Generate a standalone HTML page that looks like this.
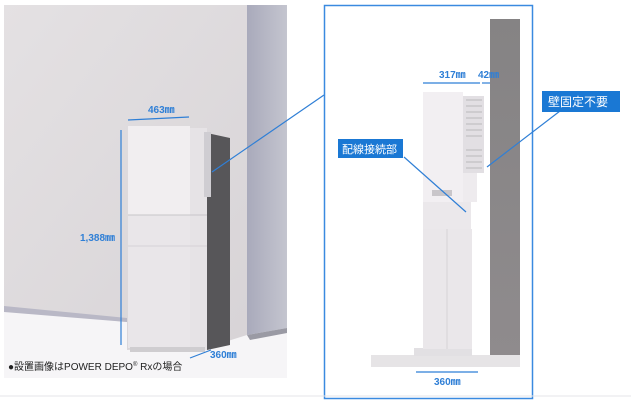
<!DOCTYPE html>
<html><head><meta charset="utf-8"><style>
html,body{margin:0;padding:0;background:#fff;}
svg{display:block;}
text{font-family:"Liberation Sans","Noto Sans CJK JP",sans-serif;}
</style></head><body>
<svg width="631" height="404" viewBox="0 0 631 404" xmlns="http://www.w3.org/2000/svg">
<defs>
<linearGradient id="wall" x1="0" y1="0" x2="1" y2="1">
<stop offset="0" stop-color="#e4e1e3"/><stop offset="1" stop-color="#d6d2d5"/></linearGradient>
<linearGradient id="pillar" x1="0" y1="0" x2="1" y2="0">
<stop offset="0" stop-color="#a9aabb"/><stop offset="1" stop-color="#c4c5cf"/></linearGradient>
<linearGradient id="gp" x1="0" y1="0" x2="0" y2="1">
<stop offset="0" stop-color="#858384"/><stop offset="1" stop-color="#8f8b8d"/></linearGradient>
</defs>
<rect width="631" height="404" fill="#fff"/>
<!-- left photo -->
<rect x="4" y="5" width="283" height="373" fill="url(#wall)"/>
<rect x="247" y="5" width="40" height="330" fill="url(#pillar)"/>
<polygon points="4,310 127,322 127,350 215,345 247,335 287,328 287,378 4,378" fill="#f6f5f7"/>
<polygon points="4,306 127,318 127,322 4,312" fill="#b9b8c6"/>
<polygon points="247,335 287,328 287,333 250,340" fill="#9a9aa4"/>
<!-- unit -->
<polygon points="207,133 230,138 230,345 207,350" fill="#575659"/>
<rect x="190" y="128" width="17" height="222" fill="#e6e3e6"/>
<rect x="204" y="132" width="7" height="65" fill="#cfcdd2"/>
<rect x="128" y="126" width="62" height="89" fill="#f1eef0"/>
<rect x="128" y="215" width="62" height="133" fill="#e9e6e9"/>
<line x1="128" y1="215" x2="207" y2="215" stroke="#c8c5c9"/>
<line x1="128" y1="246" x2="207" y2="246" stroke="#d5d2d6"/>
<rect x="130" y="347" width="75" height="5" fill="#cfcdd0"/>
<!-- dims left -->
<g stroke="#2f7fd6" stroke-width="1.2" fill="#2f7fd6">
<line x1="128" y1="120" x2="189" y2="117"/>
<line x1="121" y1="130" x2="121" y2="345"/>
<line x1="190" y1="358" x2="211" y2="350"/>
<line x1="212" y1="172" x2="324" y2="95"/>
</g>
<text x="148" y="113" font-size="10" fill="#2f7fd6" font-weight="bold">463㎜</text>
<text x="80" y="241" font-size="10" fill="#2f7fd6" font-weight="bold">1,388㎜</text>
<text x="210" y="358" font-size="10" fill="#2f7fd6" font-weight="bold">360㎜</text>
<text x="8" y="370" font-size="10" fill="#222">●設置画像はPOWER DEPO<tspan font-size="6" dy="-4">®</tspan><tspan dy="4"> Rxの場合</tspan></text>
<!-- right frame -->
<rect x="324.5" y="5.5" width="208" height="393" fill="#fff" stroke="#3a8ae0" stroke-width="1.5"/>
<rect x="490" y="19" width="30" height="336" fill="url(#gp)"/>
<rect x="371" y="355" width="149" height="12" fill="#e6e4e6"/>
<rect x="414" y="348" width="58" height="8" fill="#e2e0e3"/>
<rect x="423" y="92" width="40" height="110" fill="#f2eff2"/>
<rect x="463" y="96" width="21" height="77" fill="#e2dfe3"/>
<g stroke="#aaa" stroke-width="0.7">
<line x1="466" y1="100" x2="482" y2="100"/><line x1="466" y1="106" x2="482" y2="106"/><line x1="466" y1="112" x2="482" y2="112"/><line x1="466" y1="118" x2="482" y2="118"/><line x1="466" y1="124" x2="482" y2="124"/><line x1="466" y1="130" x2="482" y2="130"/><line x1="466" y1="136" x2="482" y2="136"/><line x1="466" y1="150" x2="482" y2="150"/><line x1="466" y1="156" x2="482" y2="156"/><line x1="466" y1="162" x2="482" y2="162"/><line x1="466" y1="168" x2="482" y2="168"/>
</g>
<rect x="463" y="173" width="14" height="29" fill="#eeebee"/>
<rect x="423" y="202" width="48" height="27" fill="#ebe8eb"/>
<rect x="432" y="190" width="20" height="6" fill="#c9c6ca"/>
<rect x="423" y="229" width="49" height="120" fill="#eae7ea"/>
<line x1="447" y1="229" x2="447" y2="349" stroke="#d6d3d7"/>
<!-- dims right -->
<g stroke="#2f7fd6" stroke-width="1.2">
<line x1="423" y1="83" x2="480" y2="83"/>
<line x1="482" y1="83" x2="490" y2="83"/>
<line x1="416" y1="372" x2="478" y2="372"/>
<line x1="404" y1="157" x2="466" y2="212"/>
<line x1="560" y1="111" x2="487" y2="167"/>
</g>
<text x="439" y="78" font-size="10" fill="#2f7fd6" font-weight="bold">317㎜</text>
<text x="478" y="78" font-size="10" fill="#2f7fd6" font-weight="bold">42㎜</text>
<text x="434" y="385" font-size="10" fill="#2f7fd6" font-weight="bold">360㎜</text>
<rect x="338" y="139" width="65" height="19" fill="#1a78d4"/>
<text x="342" y="153" font-size="11" fill="#fff">配線接続部</text>
<rect x="542" y="91" width="78" height="21" fill="#1a78d4"/>
<text x="548" y="106" font-size="12" fill="#fff">壁固定不要</text>
<line x1="0" y1="396" x2="631" y2="396" stroke="#e4e4e8"/>
</svg>
</body></html>
